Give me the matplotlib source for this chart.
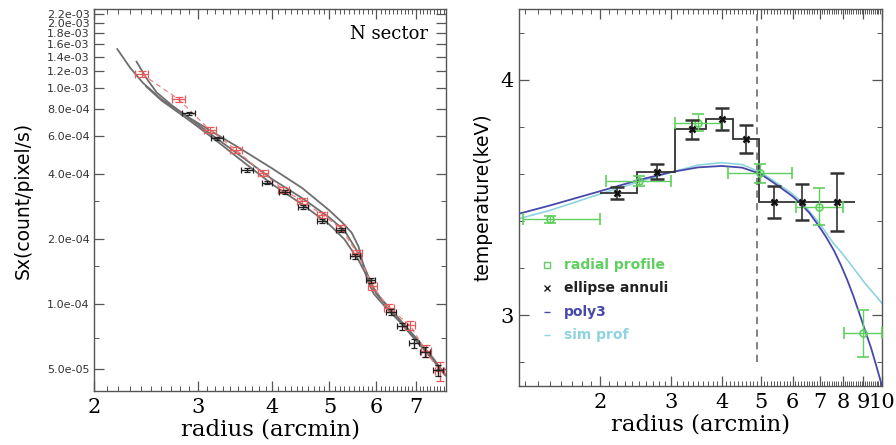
import numpy as np
import matplotlib.pyplot as plt
from matplotlib.ticker import FixedLocator, NullFormatter

# ---- left panel: surface brightness profile, N sector ----
red_r = [2.41, 2.78, 3.14, 3.48, 3.86, 4.18, 4.49, 4.86, 5.22, 5.57, 5.91, 6.30, 6.84, 7.27, 7.68]
red_sx = [1.165e-3, 8.9e-4, 6.41e-4, 5.18e-4, 4.04e-4, 3.40e-4, 3.02e-4, 2.60e-4,
          2.26e-4, 1.73e-4, 1.22e-4, 9.6e-5, 8.0e-5, 6.1e-5, 4.9e-5]
red_dr = [0.06, 0.07, 0.07, 0.08, 0.08, 0.09, 0.09, 0.10, 0.10, 0.11, 0.11, 0.12, 0.13, 0.14, 0.14]
red_dsx = [3.5e-5, 2.2e-5, 1.8e-5, 1.5e-5, 1.3e-5, 1.1e-5, 1.0e-5, 8e-6,
           7e-6, 6e-6, 5e-6, 4e-6, 4e-6, 4e-6, 5e-6]

blk_r = [2.89, 3.23, 3.63, 3.92, 4.20, 4.51, 4.86, 5.22, 5.53, 5.87, 6.36, 6.64, 6.95, 7.24, 7.63]
blk_sx = [7.66e-4, 5.87e-4, 4.19e-4, 3.66e-4, 3.32e-4, 2.81e-4, 2.43e-4, 2.21e-4,
          1.67e-4, 1.29e-4, 9.2e-5, 7.94e-5, 6.6e-5, 6.03e-5, 4.96e-5]
blk_dr = [0.07, 0.08, 0.08, 0.08, 0.09, 0.09, 0.10, 0.10, 0.11, 0.11, 0.12, 0.13, 0.13, 0.14, 0.15]
blk_dsx = [1.2e-5, 1.0e-5, 8e-6, 7e-6, 6e-6, 6e-6, 5e-6, 5e-6,
           4e-6, 4e-6, 3e-6, 3e-6, 3e-6, 3e-6, 3e-6]

# model profiles
mod1_r = [2.19, 2.30, 2.42, 2.60, 2.90, 3.20, 3.50, 4.00, 4.50, 5.00, 5.25, 5.45, 5.60, 5.79, 5.94,
          6.20, 6.60, 7.00, 7.50, 7.85]
mod1_sx = [1.52e-3, 1.25e-3, 1.06e-3, 8.9e-4, 7.3e-4, 6.2e-4, 5.35e-4, 4.26e-4, 3.45e-4, 2.72e-4,
           2.40e-4, 2.15e-4, 1.85e-4, 1.30e-4, 1.12e-4, 9.8e-5, 8.2e-5, 6.8e-5, 5.5e-5, 4.7e-5]
mod2_r = [2.36, 2.45, 2.55, 2.70, 2.90, 3.20, 3.60, 4.00, 4.50, 5.00, 5.30, 5.60, 5.85, 6.00,
          6.30, 6.80, 7.30, 7.85]
mod2_sx = [1.33e-3, 1.12e-3, 9.6e-4, 8.4e-4, 7.25e-4, 5.95e-4, 4.7e-4, 3.8e-4, 3.1e-4, 2.52e-4,
           2.2e-4, 1.72e-4, 1.30e-4, 1.12e-4, 9.6e-5, 7.6e-5, 6.0e-5, 4.7e-5]
mod3_r = [2.45, 2.60, 2.90, 3.20, 3.60, 4.00, 4.50, 5.00, 5.30, 5.60, 5.90, 6.10, 6.50, 7.00,
          7.50, 7.85]
mod3_sx = [1.02e-3, 8.8e-4, 7.1e-4, 5.8e-4, 4.5e-4, 3.6e-4, 2.9e-4, 2.34e-4, 2.0e-4, 1.6e-4,
           1.22e-4, 1.07e-4, 8.8e-5, 7.0e-5, 5.6e-5, 4.7e-5]

sx_ticks = [5e-5, 1e-4, 2e-4, 4e-4, 6e-4, 8e-4, 1.0e-3, 1.2e-3, 1.4e-3, 1.6e-3, 1.8e-3, 2.0e-3, 2.2e-3]
sx_minor = [7e-5, 1.5e-4, 3e-4]
r_ticks_left = [2, 3, 4, 5, 6, 7]

# ---- right panel: temperature profile ----
rad_r = [1.50, 2.50, 3.50, 4.98, 6.98, 8.96]
rad_lo = [1.29, 2.07, 3.06, 4.15, 6.12, 8.06]
rad_hi = [2.00, 2.99, 3.98, 5.97, 8.00, 10.0]
rad_t = [3.407, 3.570, 3.818, 3.603, 3.461, 2.922]
rad_dt = [0.014, 0.020, 0.037, 0.040, 0.080, 0.100]

ell_r = [2.20, 2.77, 3.38, 4.00, 4.59, 5.40, 6.32, 7.75]
ell_t = [3.52, 3.61, 3.79, 3.833, 3.748, 3.48, 3.48, 3.48]
ell_dt = [0.026, 0.033, 0.041, 0.047, 0.060, 0.068, 0.076, 0.122]
ell_edges = [2.0, 2.47, 3.06, 3.67, 4.28, 4.96, 5.85, 6.9, 8.57]

poly3_r = [1.257, 1.5, 2.0, 2.5, 3.0, 3.5, 4.0, 4.5, 5.0, 5.5, 6.0, 6.32, 6.6, 6.9, 7.25, 7.6,
           7.9, 8.2, 8.5, 8.8, 9.1, 9.4, 9.7, 10.0]
poly3_t = [3.431, 3.466, 3.527, 3.575, 3.608, 3.628, 3.634, 3.627, 3.600, 3.552, 3.505, 3.47,
           3.435, 3.39, 3.335, 3.275, 3.215, 3.15, 3.08, 3.005, 2.93, 2.86, 2.78, 2.70]
sim_r = [1.257, 1.5, 2.0, 2.5, 3.0, 3.5, 4.0, 4.5, 5.0, 5.5, 6.0, 6.32, 6.65, 7.0, 7.3, 7.58,
         7.9, 8.2, 8.5, 8.82, 9.1, 9.4, 9.7, 10.0]
sim_t = [3.41, 3.445, 3.515, 3.567, 3.607, 3.638, 3.648, 3.64, 3.607, 3.56, 3.515, 3.48, 3.435,
         3.39, 3.345, 3.305, 3.27, 3.235, 3.20, 3.163, 3.133, 3.105, 3.078, 3.05]

r_break = 4.91
r_ticks_right = [2, 3, 4, 5, 6, 7, 8, 9, 10]
t_ticks = [3, 4]
t_minor = [2.8, 3.2, 3.4, 3.6, 3.8, 4.2]

GREEN = '#5fcf5f'
BLUE = '#4848aa'
CYAN = '#8ed3e0'
FRAME = '#555555'

fig = plt.figure(figsize=(8.96, 4.45), dpi=100)
ax1 = fig.add_axes([0.1049, 0.1213, 0.3929, 0.8584])
ax2 = fig.add_axes([0.5792, 0.1333, 0.4051, 0.8458])

for ax in (ax1, ax2):
    for s in ax.spines.values():
        s.set_color(FRAME)
        s.set_linewidth(1.0)
    ax.tick_params(which='both', direction='in', top=True, right=True, color=FRAME)
    ax.tick_params(which='major', length=7, width=0.9)
    ax.tick_params(which='minor', length=3.5, width=0.7)

# left panel
ax1.set_xscale('log')
ax1.set_yscale('log')
for r, s in ((mod1_r, mod1_sx), (mod2_r, mod2_sx), (mod3_r, mod3_sx)):
    ax1.plot(r, s, color='#6e6e6e', lw=1.3, zorder=2)
ax1.plot(red_r, red_sx, color='#f08080', lw=0.9, ls=(0, (4, 3)), zorder=3)
ax1.errorbar(red_r, red_sx, xerr=red_dr, yerr=red_dsx, fmt='none', ecolor='#e85a5a',
             elinewidth=0.9, capsize=3, capthick=0.9, zorder=4)
ax1.errorbar(blk_r, blk_sx, xerr=blk_dr, yerr=blk_dsx, fmt='none', ecolor='#222222',
             elinewidth=1.0, capsize=2.5, capthick=0.9, zorder=4)
ax1.set_xlim(2.0, 7.87)
ax1.set_ylim(3.97e-5, 2.33e-3)
ax1.xaxis.set_major_locator(FixedLocator(r_ticks_left))
ax1.xaxis.set_major_formatter(plt.FixedFormatter([str(t) for t in r_ticks_left]))
ax1.xaxis.set_minor_locator(FixedLocator([v for v in np.arange(2.1, 7.85, 0.1)
                                          if abs(v - round(v)) > 0.01]))
ax1.xaxis.set_minor_formatter(NullFormatter())
ax1.yaxis.set_major_locator(FixedLocator(sx_ticks))
ax1.yaxis.set_major_formatter(plt.FixedFormatter(['%.1e' % v for v in sx_ticks]))
ax1.yaxis.set_minor_locator(FixedLocator(sx_minor))
ax1.yaxis.set_minor_formatter(NullFormatter())
for lab in ax1.get_yticklabels():
    lab.set_fontsize(8)
    lab.set_family('DejaVu Sans')
    lab.set_color('#333333')
for lab in ax1.get_xticklabels():
    lab.set_fontsize(15)
    lab.set_family('DejaVu Serif')
ax1.tick_params(axis='x', pad=5)
ax1.tick_params(axis='y', pad=3)
ax1.set_xlabel('radius (arcmin)', fontsize=16.5, family='DejaVu Serif', labelpad=1)
ax1.set_ylabel('Sx(count/pixel/s)', fontsize=13.5, family='DejaVu Sans', labelpad=10)
ax1.text(0.95, 0.935, 'N sector', transform=ax1.transAxes, ha='right', va='center',
         fontsize=13, family='DejaVu Serif')

# right panel
ax2.set_xscale('log')
ax2.plot(sim_r, sim_t, color=CYAN, lw=1.2, zorder=2)
ax2.plot(poly3_r, poly3_t, color=BLUE, lw=1.3, zorder=3)
ax2.stairs(ell_t, ell_edges, color='#333333', lw=1.3, baseline=None, zorder=4)
ax2.errorbar(rad_r, rad_t, xerr=[np.subtract(rad_r, rad_lo), np.subtract(rad_hi, rad_r)],
             yerr=rad_dt, fmt='o', ms=5, mfc='none', mec=GREEN, mew=1.2, ecolor=GREEN,
             elinewidth=1.0, capsize=4, capthick=1.0, zorder=5)
ax2.errorbar(ell_r, ell_t, yerr=ell_dt, fmt='x', ms=4, mew=1.8, color='#111111',
             ecolor='#333333', elinewidth=1.2, capsize=5, capthick=1.2, zorder=6)
ax2.plot([r_break, r_break], [2.80, 4.28], color='#777777', lw=1.3, ls=(0, (4, 3)), zorder=1)
ax2.set_xlim(1.257, 10.0)
ax2.set_ylim(2.70, 4.30)
ax2.xaxis.set_major_locator(FixedLocator(r_ticks_right))
ax2.xaxis.set_major_formatter(plt.FixedFormatter([str(t) for t in r_ticks_right]))
ax2.xaxis.set_minor_locator(FixedLocator([v for v in np.arange(1.3, 10.0, 0.1)
                                          if abs(v - round(v)) > 0.01]))
ax2.xaxis.set_minor_formatter(NullFormatter())
ax2.yaxis.set_major_locator(FixedLocator(t_ticks))
ax2.yaxis.set_minor_locator(FixedLocator(t_minor))
ax2.yaxis.set_minor_formatter(NullFormatter())
for lab in ax2.get_xticklabels() + ax2.get_yticklabels():
    lab.set_fontsize(15)
    lab.set_family('DejaVu Serif')
ax2.tick_params(axis='x', pad=5)
ax2.set_xlabel('radius (arcmin)', fontsize=16.5, family='DejaVu Serif', labelpad=1)
ax2.set_ylabel('temperature(keV)', fontsize=13.5, family='DejaVu Sans', labelpad=6)

# legend drawn by hand in axes coordinates
leg = [('s', GREEN, 'radial profile'), ('x', '#222222', 'ellipse annuli'),
       ('_', BLUE, 'poly3'), ('_', CYAN, 'sim prof')]
for i, (mk, col, txt) in enumerate(leg):
    yy = 0.321 - i * 0.062
    ax2.plot([0.077], [yy], marker=mk, ms=4, mfc='none', mec=col, mew=1.0,
             transform=ax2.transAxes, zorder=7)
    ax2.text(0.124, yy, txt, transform=ax2.transAxes, color=col, fontsize=10,
             family='DejaVu Sans', weight='bold', va='center')

fig.savefig('out.png', dpi=100)
